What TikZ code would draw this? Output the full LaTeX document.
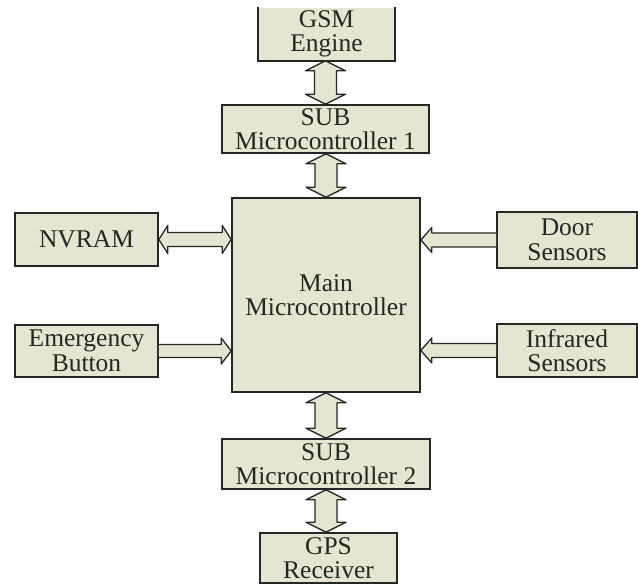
\documentclass[tikz,border=0pt]{standalone}
\usepackage{fontspec}
\setmainfont{Liberation Serif}
\usetikzlibrary{calc}
\definecolor{boxfill}{RGB}{229,229,210}
\definecolor{edge}{RGB}{38,38,38}

\begin{document}
\begin{tikzpicture}[x=1pt,y=-1pt,
  block/.style={fill=boxfill, draw=edge, line width=1.6pt, inner sep=0pt,
    align=center, text=black!85, font=\fontsize{25.5}{24.5}\selectfont},
  fat/.style={fill=boxfill, draw=edge, line width=1.3pt, line join=round},
  % wide two-headed arrow, start above, target below
  vboth/.style={fat, to path={
    -- ($(\tikztostart)+(20,10)$) -- ($(\tikztostart)+(11,10)$)
    -- ($(\tikztotarget)+(11,-10)$) -- ($(\tikztotarget)+(20,-10)$)
    -- (\tikztotarget)
    -- ($(\tikztotarget)+(-20,-10)$) -- ($(\tikztotarget)+(-11,-10)$)
    -- ($(\tikztostart)+(-11,10)$) -- ($(\tikztostart)+(-20,10)$) -- cycle}},
  % wide two-headed arrow, start on the left, target on the right
  hboth/.style={fat, to path={
    -- ($(\tikztostart)+(9,-14)$) -- ($(\tikztostart)+(9,-7)$)
    -- ($(\tikztotarget)+(-9,-7)$) -- ($(\tikztotarget)+(-9,-14)$)
    -- (\tikztotarget)
    -- ($(\tikztotarget)+(-9,14)$) -- ($(\tikztotarget)+(-9,7)$)
    -- ($(\tikztostart)+(9,7)$) -- ($(\tikztostart)+(9,14)$) -- cycle}},
  % wide arrow pointing right
  hright/.style={fat, to path={
    ($(\tikztostart)+(0,-6.5)$) -- ($(\tikztotarget)+(-10,-6.5)$)
    -- ($(\tikztotarget)+(-10,-13)$) -- (\tikztotarget)
    -- ($(\tikztotarget)+(-10,13)$) -- ($(\tikztotarget)+(-10,6.5)$)
    -- ($(\tikztostart)+(0,6.5)$)}},
  % wide arrow pointing left
  hleft/.style={fat, to path={
    ($(\tikztostart)+(0,-7)$) -- ($(\tikztotarget)+(11,-7)$)
    -- ($(\tikztotarget)+(11,-12.5)$) -- (\tikztotarget)
    -- ($(\tikztotarget)+(11,12.5)$) -- ($(\tikztotarget)+(11,7)$)
    -- ($(\tikztostart)+(0,7)$)}}
]
\useasboundingbox (0,0) rectangle (638,585);

% blocks
\node[block, draw=none, minimum width=135pt, minimum height=52pt] (gsm) at (326.5,34) {GSM\\Engine};
\draw[edge, line width=1.6pt] (gsm.north west) -- (gsm.south west) -- (gsm.south east) -- (gsm.north east);
\node[block, minimum width=207pt, minimum height=48pt] (sub1) at (325.5,129) {SUB\\Microcontroller 1};
\node[block, minimum width=188pt, minimum height=194pt] (main) at (326,295) {Main\\Microcontroller};
\node[block, minimum width=143pt, minimum height=53pt] (nvram) at (86.5,239.5) {NVRAM};
\node[block, minimum width=143pt, minimum height=52pt] (emerg) at (86.5,351) {Emergency\\Button};
\node[block, minimum width=140pt, minimum height=56pt] (door) at (567,240) {Door\\Sensors};
\node[block, minimum width=140pt, minimum height=53pt] (infra) at (567,350.5) {Infrared\\Sensors};
\node[block, minimum width=208pt, minimum height=50pt] (sub2) at (326,464) {SUB\\Microcontroller 2};
\node[block, minimum width=137pt, minimum height=50pt] (gps) at (328.5,558) {GPS\\Receiver};

% links
\draw[vboth] (gsm.south -| sub1.north) to (sub1.north);
\draw[vboth] (sub1.south -| main.north) to (main.north);
\draw[vboth] (main.south) to (sub2.north);
\draw[vboth] (sub2.south) to (gps.north -| sub2.south);
\draw[hboth] (nvram.east) to (main.west |- nvram.east);
\draw[hright] (emerg.east) to (main.west |- emerg.east);
\draw[hleft] (door.west) to (main.east |- door.west);
\draw[hleft] (infra.west) to (main.east |- infra.west);
\end{tikzpicture}
\end{document}
